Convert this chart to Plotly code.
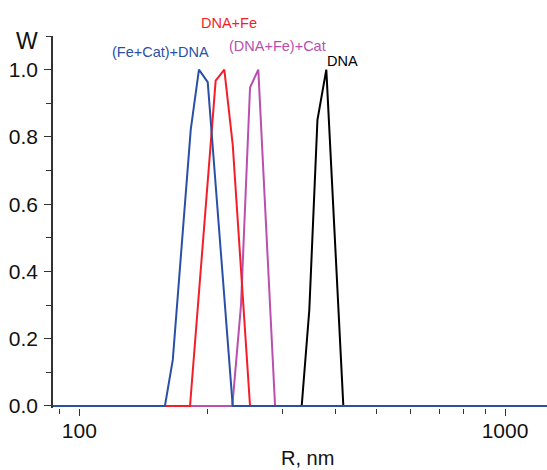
import plotly.graph_objects as go

# Data
r_blue = [80, 158.9, 165.8, 182.7, 191.0, 200.3, 229.3, 1500]
w_blue = [0, 0, 0.137, 0.821, 1.0, 0.963, 0, 0]

r_red = [80, 182.0, 209.1, 219.1, 229.3, 251.8, 1500]
w_red = [0, 0, 0.967, 1.0, 0.777, 0, 0]

r_mag = [80, 228.8, 239.8, 251.8, 263.3, 288.3, 1500]
w_mag = [0, 0, 0.30, 0.947, 1.0, 0, 0]

r_blk = [80, 333.0, 347.0, 362.6, 380.4, 417.1, 1500]
w_blk = [0, 0, 0.286, 0.851, 1.0, 0, 0]

series_names = ["DNA", "(DNA+Fe)+Cat", "DNA+Fe", "(Fe+Cat)+DNA"]
colors = ["#000000", "#B94FAE", "#F41E28", "#2A50A6"]
xs = [r_blk, r_mag, r_red, r_blue]
ys = [w_blk, w_mag, w_red, w_blue]

y_ticks = [0.0, 0.2, 0.4, 0.6, 0.8, 1.0]
y_ticktext = ["0.0", "0.2", "0.4", "0.6", "0.8", "1.0"]
x_ticks = [100, 1000]
x_minor = [90, 200, 300, 400, 500, 600, 700, 800, 900]

W, H = 547, 470
L, R, T, B = 53, 0, 36, 62
PW, PH = W - L - R, H - T - B
DEC = 425.7          # pixels per decade
X100 = 79.3          # pixel of R=100
x0 = 2 - (X100 - L) / DEC


def px_x(x):
    return (x - L) / PW


def px_y(y):
    return (H - B - y) / PH


# label centre positions in pixels
label_pos = {
    "DNA": (342, 60.7),
    "(DNA+Fe)+Cat": (277, 46),
    "DNA+Fe": (229, 23.3),
    "(Fe+Cat)+DNA": (160.8, 51.7),
}

font = "Liberation Sans, Arial"
fig = go.Figure()
for name, c, x, y in zip(series_names, colors, xs, ys):
    fig.add_trace(go.Scatter(x=x, y=y, mode="lines", name=name,
                             line=dict(color=c, width=2), showlegend=False))
    lx, ly = label_pos[name]
    fig.add_annotation(x=px_x(lx), y=px_y(ly), xref="paper", yref="paper", text=name,
                       showarrow=False, xanchor="center", yanchor="middle",
                       font=dict(family=font, size=14.5, color=c))

fig.add_annotation(x=px_x(26.5), y=px_y(41), xref="paper", yref="paper", text="W",
                   showarrow=False, xanchor="center", yanchor="middle",
                   font=dict(family=font, size=23, color="#111"))
fig.add_annotation(x=px_x(307), y=px_y(458), xref="paper", yref="paper",
                   text="R, nm", showarrow=False, xanchor="center", yanchor="middle",
                   font=dict(family=font, size=20, color="#111"))

fig.update_layout(
    width=W, height=H,
    margin=dict(l=L, r=R, t=T, b=B, autoexpand=False),
    paper_bgcolor="white", plot_bgcolor="white",
    font=dict(family=font, size=21, color="#111"),
    xaxis=dict(type="log", range=[x0, x0 + PW / DEC], automargin=False,
               tickmode="array", tickvals=x_ticks, ticktext=["100", "1000"],
               ticks="outside", ticklen=7, tickwidth=1.2, tickcolor="#333",
               showgrid=False, zeroline=False, showline=False, ticklabelstandoff=-3,
               minor=dict(tickmode="array", tickvals=x_minor, ticks="outside",
                          ticklen=5, tickwidth=1, tickcolor="#333", showgrid=False),
               tickfont=dict(size=21)),
    yaxis=dict(range=[-0.006, 1.1], automargin=False, tickmode="array",
               tickvals=y_ticks, ticktext=y_ticktext, ticks="outside", ticklen=7,
               tickwidth=1.2, tickcolor="#333", showline=True, linecolor="#333",
               linewidth=1.5, showgrid=False, zeroline=False, ticklabelstandoff=2,
               minor=dict(tickmode="linear", tick0=0.1, dtick=0.2, ticks="outside",
                          ticklen=5, tickwidth=1, tickcolor="#333", showgrid=False),
               tickfont=dict(size=21)),
)

fig.write_html("out.html", config={"displayModeBar": False},
               post_script="document.body.style.margin='0px';document.body.style.overflow='hidden';")
